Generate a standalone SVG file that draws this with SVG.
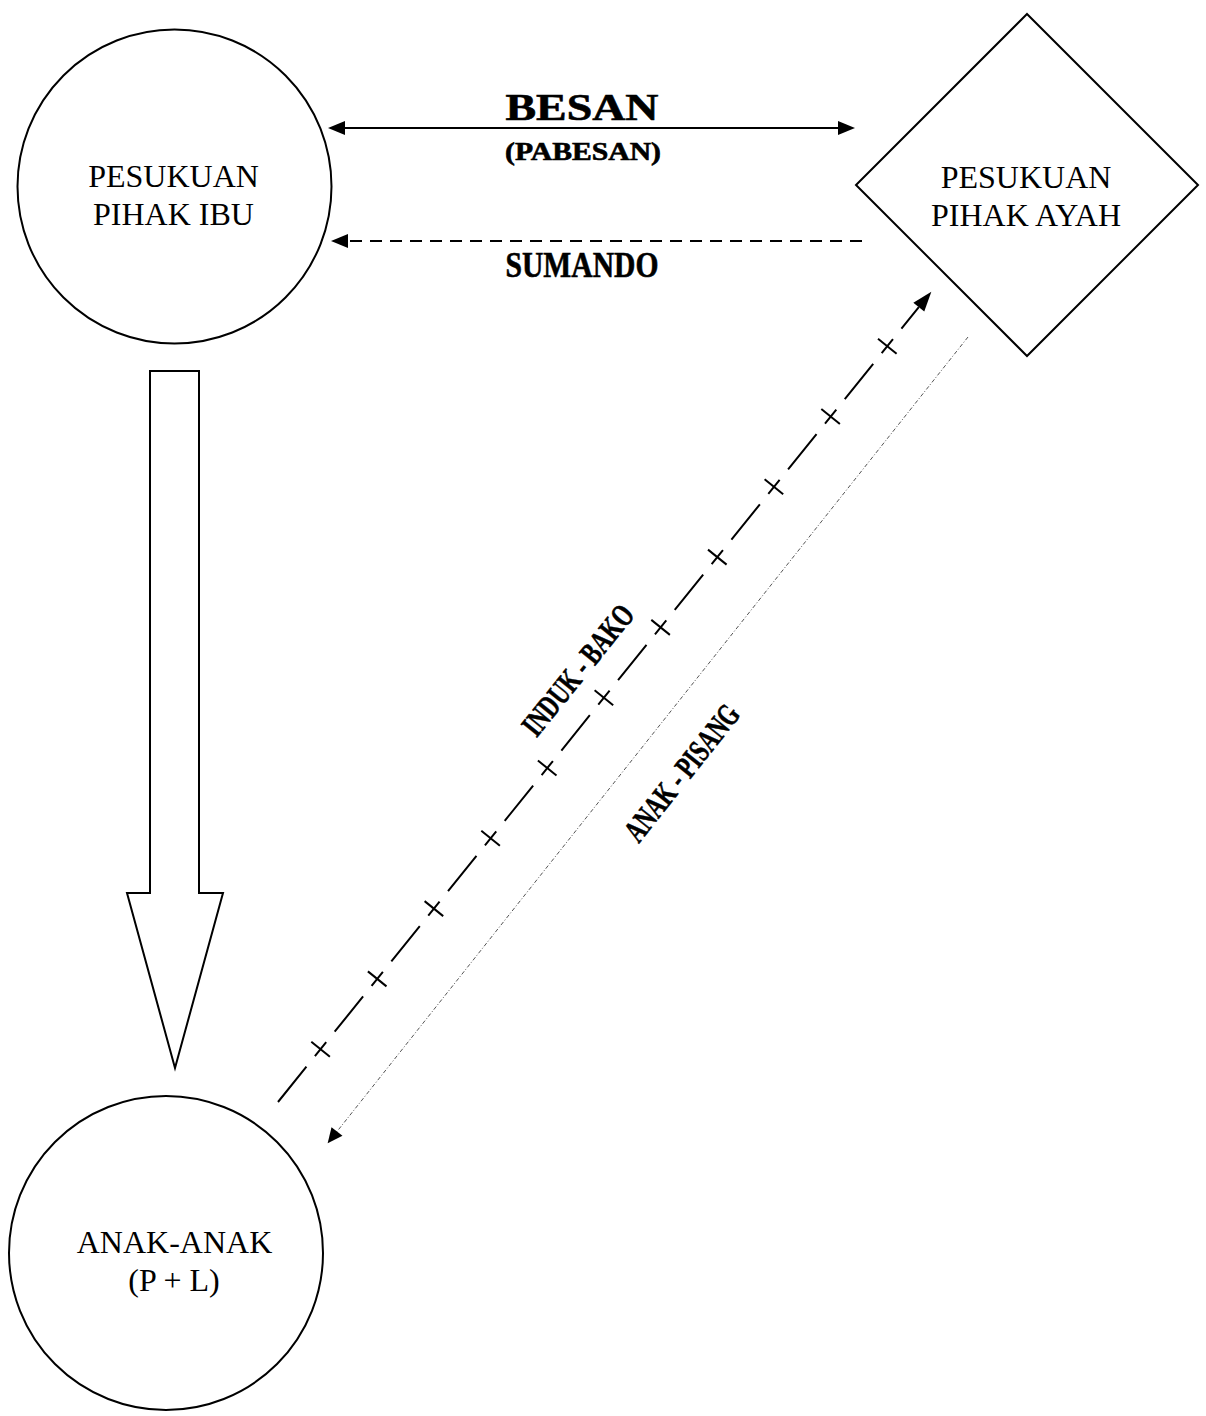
<svg xmlns="http://www.w3.org/2000/svg" xmlns:xlink="http://www.w3.org/1999/xlink" width="1206" height="1416" viewBox="0 0 1206 1416">
<style>
.shape{fill:#fff;stroke:#000;stroke-width:2}
.lbl{font-family:"Liberation Serif","Times New Roman",serif;font-size:32px;fill:#000;text-anchor:middle}
.bold{font-family:"Liberation Serif","Times New Roman",serif;font-weight:bold;fill:#000;stroke:#000;stroke-width:0.6;text-anchor:middle}
.ln{fill:none;stroke:#000;stroke-width:2}
</style>
<defs>
<marker id="head" markerUnits="userSpaceOnUse" markerWidth="17" markerHeight="14" refX="0" refY="7" orient="auto-start-reverse" overflow="visible">
<path d="M0,0 L17,7 L0,14 z" fill="#000"/>
</marker>
<marker id="headD" markerUnits="userSpaceOnUse" markerWidth="20" markerHeight="14" refX="0" refY="7" orient="auto" overflow="visible">
<path d="M0,0 L20,7 L0,14 z" fill="#000"/>
</marker>
<marker id="headS" markerUnits="userSpaceOnUse" markerWidth="15" markerHeight="14" refX="0" refY="7" orient="auto" overflow="visible">
<path d="M0,0 L15,7 L0,14 z" fill="#000"/>
</marker>
<path id="tick" d="M-9.3,-7.5 L9.3,7.5" fill="none" stroke="#000" stroke-width="2"/>
</defs>
<rect width="1206" height="1416" fill="#fff"/>

<g id="node-ibu">
<circle class="shape" cx="174.5" cy="186.5" r="157"/>
<text class="lbl" x="173.5" y="187">PESUKUAN</text>
<text class="lbl" x="173.5" y="225">PIHAK IBU</text>
</g>

<g id="node-ayah">
<polygon class="shape" points="1027,14 1198,185 1027,356 856,185"/>
<text class="lbl" x="1026" y="188">PESUKUAN</text>
<text class="lbl" x="1026" y="226">PIHAK AYAH</text>
</g>

<g id="node-anak">
<circle class="shape" cx="166" cy="1253" r="157"/>
<text class="lbl" x="174.5" y="1253">ANAK-ANAK</text>
<text class="lbl" x="174" y="1291">(P + L)</text>
</g>

<g id="connectors">
<polygon class="shape" points="150,371 199,371 199,893 223,893 175,1068 127,893 150,893"/>
<line class="ln" x1="345" y1="128" x2="838" y2="128" marker-start="url(#head)" marker-end="url(#head)"/>
<line class="ln" x1="862" y1="241" x2="348" y2="241" stroke-dasharray="12 8" marker-end="url(#head)"/>
<line class="ln" x1="278" y1="1102" x2="918.8" y2="307.2" stroke-dasharray="45.3 13.5 18 13.5" marker-end="url(#headD)"/>
<use xlink:href="#tick" x="320.6" y="1049.2"/>
<use xlink:href="#tick" x="377.2" y="978.9"/>
<use xlink:href="#tick" x="433.9" y="908.6"/>
<use xlink:href="#tick" x="490.6" y="838.3"/>
<use xlink:href="#tick" x="547.2" y="768.0"/>
<use xlink:href="#tick" x="603.9" y="697.7"/>
<use xlink:href="#tick" x="660.6" y="627.4"/>
<use xlink:href="#tick" x="717.3" y="557.1"/>
<use xlink:href="#tick" x="773.9" y="486.8"/>
<use xlink:href="#tick" x="830.6" y="416.5"/>
<use xlink:href="#tick" x="887.3" y="346.2"/>
<line x1="968" y1="337" x2="337" y2="1131.5" fill="none" stroke="#555" stroke-width="1" stroke-dasharray="4 2 1 2" marker-end="url(#headS)"/>
<text class="bold" x="582" y="120" font-size="37" textLength="153" lengthAdjust="spacingAndGlyphs">BESAN</text>
<text class="bold" x="583" y="160" font-size="25" textLength="156" lengthAdjust="spacingAndGlyphs">(PABESAN)</text>
<text class="bold" x="582" y="277" font-size="36" textLength="153" lengthAdjust="spacingAndGlyphs">SUMANDO</text>
<text class="bold" font-size="32" textLength="158" lengthAdjust="spacingAndGlyphs" transform="translate(586.2,676.7) rotate(-51.1)">INDUK - BAKO</text>
<text class="bold" font-size="32" textLength="165" lengthAdjust="spacingAndGlyphs" transform="translate(690,779.4) rotate(-51.5)">ANAK - PISANG</text>
</g>
</svg>
